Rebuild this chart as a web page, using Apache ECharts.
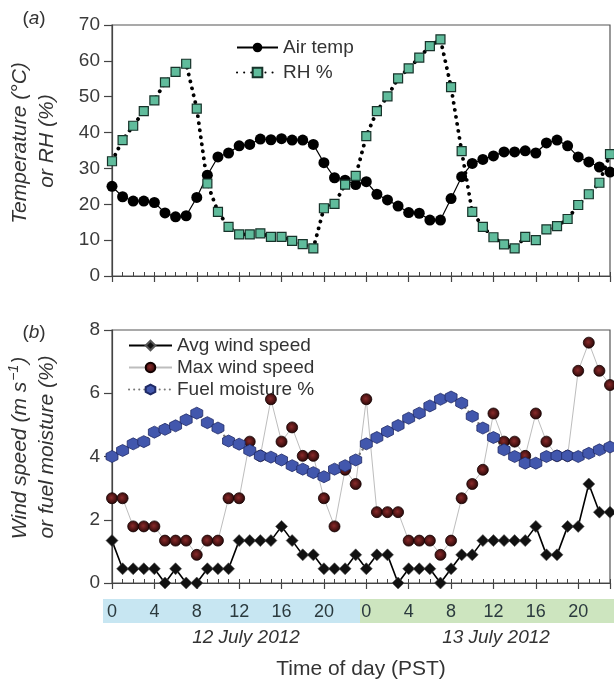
<!DOCTYPE html>
<html><head><meta charset="utf-8">
<script src="https://cdn.jsdelivr.net/npm/echarts@6/dist/echarts.min.js"></script>
<style>html,body{margin:0;padding:0;background:#fff}#c{width:614px;height:683px}</style>
</head><body><div id="c"></div>
<script>
// ---- data ----
const hours = [0,1,2,3,4,5,6,7,8,9,10,11,12,13,14,15,16,17,18,19,20,21,22,23,24,25,26,27,28,29,30,31,32,33,34,35,36,37,38,39,40,41,42,43,44,45,46,47];
const airTemp = [25,22.1,20.9,20.9,20.5,17.6,16.5,16.8,21.9,28.1,33.2,34.3,36.3,36.7,38.2,38.0,38.3,37.9,37.9,36.7,31.6,27.4,26.7,25.5,26.3,22.8,21.2,19.5,17.7,17.5,15.6,15.6,21.6,27.7,31.4,32.5,33.5,34.6,34.6,34.9,34.3,37.1,37.9,36.3,33.2,31.8,30.4,29.0];
const rh = [32.0,37.9,41.9,46.0,49.0,54.0,56.9,59.2,46.7,25.8,17.9,13.7,11.6,11.6,11.9,10.9,10.9,9.8,8.9,7.7,18.9,20.1,25.5,27.9,39.0,46.0,50.1,55.1,57.9,60.9,64.1,66.0,52.7,34.8,17.9,13.7,10.8,8.8,7.7,10.9,10.0,13.0,13.9,15.9,19.8,22.8,26.0,34.0];
const avgWind = [1.34,0.45,0.45,0.45,0.45,0,0.45,0,0,0.45,0.45,0.45,1.34,1.34,1.34,1.34,1.79,1.34,0.89,0.89,0.45,0.45,0.45,0.89,0.45,0.89,0.89,0,0.45,0.45,0.45,0,0.45,0.89,0.89,1.34,1.34,1.34,1.34,1.34,1.79,0.89,0.89,1.79,1.79,3.13,2.24,2.24];
const maxWind = [2.68,2.68,1.79,1.79,1.79,1.34,1.34,1.34,0.89,1.34,1.34,2.68,2.68,4.47,4.02,5.81,4.47,4.92,4.02,4.02,2.68,1.79,3.58,3.13,5.81,2.24,2.24,2.24,1.34,1.34,1.34,0.89,1.34,2.68,3.13,3.58,5.36,4.47,4.47,4.02,5.36,4.47,4.02,4.02,6.71,7.6,6.71,6.26];
const fuelMoisture = [4.0,4.19,4.4,4.47,4.77,4.86,4.97,5.16,5.37,5.07,4.9,4.49,4.39,4.19,4.02,3.98,3.89,3.71,3.6,3.49,3.36,3.6,3.71,3.89,4.4,4.6,4.79,4.98,5.21,5.37,5.6,5.81,5.88,5.69,5.27,4.9,4.6,4.21,4.0,3.79,3.79,4.0,4.02,4.02,4.0,4.1,4.21,4.3];
const seriesNamesA = ['Air temp','RH %'];
const seriesNamesB = ['Avg wind speed','Max wind speed','Fuel moisture %'];
const dayLabels = ['12 July 2012','13 July 2012'];
const xTitle = 'Time of day (PST)';

// ---- chart ----
const FONT = '"Liberation Sans", Arial, sans-serif';
const AX = '#444';
const hexPath = 'path://M0,-10L8.66,-5L8.66,5L0,10L-8.66,5L-8.66,-5Z';
const pairs = vals => hours.map((h, i) => [h, vals[i]]);

function mainX(gi, showLabels) {
  return {gridIndex: gi, type: 'value', min: 0, max: 47, interval: 4, position: 'bottom',
    axisLine: {show: true, onZero: false, lineStyle: {color: AX, width: 1.2}},
    axisTick: {show: true, inside: false, length: 6, lineStyle: {color: AX, width: 1.2}},
    axisLabel: {show: showLabels, margin: 20, fontSize: 18, color: '#2b3a3e', fontFamily: FONT,
      formatter: v => (v % 4 === 0 ? String(v % 24) : '')},
    splitLine: {show: false}};
}
function minorX(gi) {
  return {gridIndex: gi, type: 'value', min: 0, max: 47, interval: 1, position: 'bottom',
    axisLine: {show: false}, axisTick: {show: true, inside: true, length: 4, lineStyle: {color: AX, width: 1}},
    axisLabel: {show: false}, splitLine: {show: false}};
}
function yAx(gi, max, interval) {
  return {gridIndex: gi, type: 'value', min: 0, max: max, interval: interval,
    axisLine: {show: true, lineStyle: {color: AX, width: 1.2}},
    axisTick: {show: true, length: 8, lineStyle: {color: AX, width: 1.2}},
    axisLabel: {fontSize: 19, color: '#3a3a3a', margin: 12, fontFamily: FONT},
    splitLine: {show: false}};
}
function txt(x, y, text, opts) {
  return Object.assign({type: 'text', x: x, y: y, z: 10, style: Object.assign({
    text: text, fontFamily: FONT, fontSize: 19, fill: '#333',
    align: 'center', verticalAlign: 'middle', textAlign: 'center', textVerticalAlign: 'middle'
  }, opts && opts.style || {})}, opts && opts.el || {});
}
const richIt = {
  n: {fontSize: 21, fontStyle: 'italic', fontFamily: FONT, fill: '#333', color: '#333'},
  s: {fontSize: 14, fontStyle: 'italic', fontFamily: FONT, fill: '#333', color: '#333', padding: [0, 1, 11, 1]},
  p: {fontSize: 19, fontFamily: FONT, fill: '#333', color: '#333'},
  i: {fontSize: 19, fontStyle: 'italic', fontFamily: FONT, fill: '#333', color: '#333'}
};

const chart = echarts.init(document.getElementById('c'), null, {renderer: 'canvas'});
chart.setOption({
  animation: false,
  backgroundColor: '#fff',
  grid: [
    {left: 112, top: 25, width: 498, height: 251, show: true, borderColor: '#555', borderWidth: 1.2, backgroundColor: 'transparent'},
    {left: 112, top: 330, width: 498, height: 253, show: true, borderColor: '#555', borderWidth: 1.2, backgroundColor: 'transparent'}
  ],
  xAxis: [mainX(0, false), minorX(0), mainX(1, true), minorX(1)],
  yAxis: [yAx(0, 70, 10), yAx(1, 8, 2)],
  legend: [
    {data: seriesNamesA, orient: 'vertical', left: 231, top: 33, itemWidth: 41, itemHeight: 12, itemGap: 6,
      textStyle: {fontSize: 19, color: '#333', fontFamily: FONT, lineHeight: 19}},
    {data: seriesNamesB, orient: 'vertical', left: 123, top: 331, itemWidth: 43, itemHeight: 12, itemGap: 3,
      textStyle: {fontSize: 19, color: '#333', fontFamily: FONT, lineHeight: 19}}
  ],
  graphic: [
    {type: 'rect', z: -1, shape: {x: 103, y: 599, width: 257, height: 24}, style: {fill: '#c7e6f2'}},
    {type: 'rect', z: -1, shape: {x: 360, y: 599, width: 254, height: 24}, style: {fill: '#cde5bf'}},
    txt(34, 19, '{p|(}{i|a}{p|)}', {style: {rich: richIt}}),
    txt(34, 333, '{p|(}{i|b}{p|)}', {style: {rich: richIt}}),
    txt(20, 143, '{n|Temperature (°C)}', {style: {rich: richIt}, el: {rotation: Math.PI / 2}}),
    txt(47, 141, '{n|or RH (%)}', {style: {rich: richIt}, el: {rotation: Math.PI / 2}}),
    txt(20, 448, '{n|Wind speed (m s}{s|−1}{n|)}', {style: {rich: richIt}, el: {rotation: Math.PI / 2}}),
    txt(47, 447, '{n|or fuel moisture (%)}', {style: {rich: richIt}, el: {rotation: Math.PI / 2}}),
    txt(246, 638, dayLabels[0], {style: {fontStyle: 'italic', fontSize: 19}}),
    txt(496, 638, dayLabels[1], {style: {fontStyle: 'italic', fontSize: 19}}),
    txt(361, 669, xTitle, {style: {fontSize: 21}})
  ],
  series: [
    {name: seriesNamesA[0], type: 'line', xAxisIndex: 0, yAxisIndex: 0, data: pairs(airTemp), clip: false,
      symbol: 'circle', symbolSize: 11, itemStyle: {color: '#000'}, lineStyle: {color: '#000', width: 1.2}, z: 3},
    {name: seriesNamesA[1], type: 'line', xAxisIndex: 0, yAxisIndex: 0, data: pairs(rh), clip: false,
      symbol: 'rect', symbolSize: 9, itemStyle: {color: '#60bc9c', borderColor: '#17332a', borderWidth: 1.2},
      lineStyle: {color: '#000', width: 3.8, type: [0.1, 7], cap: 'round'}, z: 4},
    {name: seriesNamesB[0], type: 'line', xAxisIndex: 2, yAxisIndex: 1, data: pairs(avgWind), clip: false,
      symbol: 'diamond', symbolSize: 12, itemStyle: {color: '#111', borderColor: '#555', borderWidth: 0.6},
      lineStyle: {color: '#000', width: 1.6}, z: 3},
    {name: seriesNamesB[1], type: 'line', xAxisIndex: 2, yAxisIndex: 1, data: pairs(maxWind), clip: false,
      symbol: 'circle', symbolSize: 11,
      itemStyle: {color: {type: 'radial', x: 0.45, y: 0.45, r: 0.6, colorStops: [{offset: 0, color: '#8a2a2a'}, {offset: 1, color: '#1e0404'}]},
        borderColor: '#120000', borderWidth: 0.8},
      lineStyle: {color: '#bdbdbd', width: 1}, z: 4},
    {name: seriesNamesB[2], type: 'line', xAxisIndex: 2, yAxisIndex: 1, data: pairs(fuelMoisture), clip: false,
      symbol: hexPath, symbolSize: 12, itemStyle: {color: '#4257ad', borderColor: '#1f2a66', borderWidth: 0.8},
      lineStyle: {color: '#777', width: 2.5, type: [0.1, 5], cap: 'round'}, z: 5}
  ]
});
</script></body></html>
